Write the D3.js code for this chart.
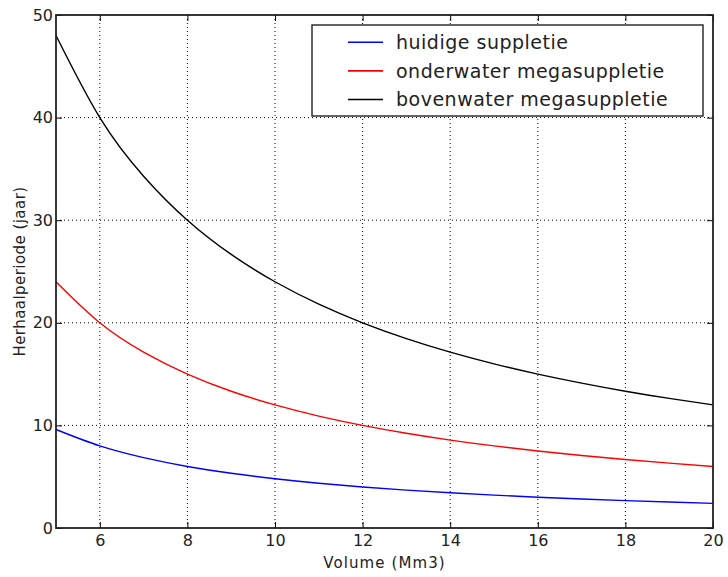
<!DOCTYPE html>
<html>
<head>
<meta charset="utf-8">
<script src="https://cdn.jsdelivr.net/npm/d3@7"></script>
<style>
  body { margin: 0; background: #fff; }
  svg { display: block; font-family: "DejaVu Sans", Verdana, sans-serif; }
</style>
</head>
<body>
<svg id="chart" width="728" height="577"></svg>
<script>
// values, volume in Mm3
const volumes = [5, 6, 7, 8, 9, 10, 11, 12, 13, 14, 15, 16, 17, 18, 19, 20];
const huidige = [9.6, 8.0, 6.86, 6.0, 5.33, 4.8, 4.36, 4.0, 3.69, 3.43, 3.2, 3.0, 2.82, 2.67, 2.53, 2.4];
const onderwater = [24, 20, 17.14, 15, 13.33, 12, 10.91, 10, 9.23, 8.57, 8, 7.5, 7.06, 6.67, 6.32, 6];
const bovenwater = [48, 40, 34.29, 30, 26.67, 24, 21.82, 20, 18.46, 17.14, 16, 15, 14.12, 13.33, 12.63, 12];
const xTicks = [6, 8, 10, 12, 14, 16, 18, 20];
const yTicks = [0, 10, 20, 30, 40, 50];

const series = [
    { name: "huidige suppletie", values: huidige, color: "#0000ff" },
    { name: "onderwater megasuppletie", values: onderwater, color: "#ff0000" },
    { name: "bovenwater megasuppletie", values: bovenwater, color: "#000000" }
];

const margin = { left: 56, right: 15, top: 15, bottom: 49 };
const width = 728, height = 577;
const svg = d3.select("#chart");

const x = d3.scaleLinear().domain([5, 20]).range([margin.left, width - margin.right]);
const y = d3.scaleLinear().domain([0, 50]).range([height - margin.bottom, margin.top]);

// dotted grid
const grid = svg.append("g").attr("stroke", "#000").attr("stroke-width", 1)
    .attr("stroke-dasharray", "1,3");
grid.selectAll("line.gx").data(xTicks.filter(t => t < 20)).enter().append("line")
    .attr("x1", d => x(d)).attr("x2", d => x(d))
    .attr("y1", y(0)).attr("y2", y(50));
grid.selectAll("line.gy").data(yTicks.filter(t => t > 0 && t < 50)).enter().append("line")
    .attr("x1", x(5)).attr("x2", x(20))
    .attr("y1", d => y(d)).attr("y2", d => y(d));

// curves
const line = d3.line()
    .x((d, i) => x(volumes[i]))
    .y(d => y(d))
    .curve(d3.curveNatural);

svg.append("g").selectAll("path").data(series).enter().append("path")
    .attr("d", d => line(d.values))
    .attr("fill", "none")
    .attr("stroke", d => d.color)
    .attr("stroke-width", 1.4);

// axes with inward ticks, on all four sides
const fontSize = 16;
const axisBottom = svg.append("g").attr("transform", `translate(0,${y(0)})`)
    .call(d3.axisBottom(x).tickValues(xTicks).tickSizeInner(-6).tickSizeOuter(0).tickPadding(7));
const axisLeft = svg.append("g").attr("transform", `translate(${x(5)},0)`)
    .call(d3.axisLeft(y).tickValues(yTicks).tickSizeInner(-6).tickSizeOuter(0).tickPadding(3));
const axisTop = svg.append("g").attr("transform", `translate(0,${y(50)})`)
    .call(d3.axisTop(x).tickValues(xTicks).tickSizeInner(-6).tickSizeOuter(0).tickFormat(""));
const axisRight = svg.append("g").attr("transform", `translate(${x(20)},0)`)
    .call(d3.axisRight(y).tickValues(yTicks).tickSizeInner(-6).tickSizeOuter(0).tickFormat(""));

[axisBottom, axisLeft, axisTop, axisRight].forEach(g => {
    g.select(".domain").remove();
    g.selectAll(".tick line").attr("stroke", "#000").attr("stroke-width", 1);
    g.selectAll(".tick text").attr("fill", "#222").attr("font-size", fontSize)
        .attr("font-family", "DejaVu Sans, Verdana, sans-serif");
});

// frame
svg.append("rect")
    .attr("x", x(5)).attr("y", y(50))
    .attr("width", x(20) - x(5)).attr("height", y(0) - y(50))
    .attr("fill", "none").attr("stroke", "#222").attr("stroke-width", 1.8);

// axis titles
svg.append("text")
    .attr("x", (x(5) + x(20)) / 2).attr("y", 568)
    .attr("text-anchor", "middle").attr("font-size", 15).attr("letter-spacing", 1.1)
    .attr("fill", "#222")
    .text("Volume (Mm3)");
svg.append("text")
    .attr("transform", `translate(25,${(y(0) + y(50)) / 2}) rotate(-90)`)
    .attr("text-anchor", "middle").attr("font-size", 15).attr("letter-spacing", 0.45)
    .attr("fill", "#222")
    .text("Herhaalperiode (jaar)");

// legend
const legend = svg.append("g").attr("transform", "translate(312,25)");
legend.append("rect")
    .attr("width", 391).attr("height", 91)
    .attr("fill", "#fff").attr("stroke", "#222").attr("stroke-width", 1.4);
const items = legend.selectAll("g.item").data(series).enter().append("g")
    .attr("transform", (d, i) => `translate(0,${17.3 + i * 28.6})`);
items.append("line")
    .attr("x1", 36).attr("x2", 71)
    .attr("stroke", d => d.color).attr("stroke-width", 1.6);
items.append("text")
    .attr("x", 84).attr("dy", "0.35em")
    .attr("font-size", 19).attr("letter-spacing", 0.5).attr("fill", "#222")
    .text(d => d.name);
</script>
</body>
</html>
